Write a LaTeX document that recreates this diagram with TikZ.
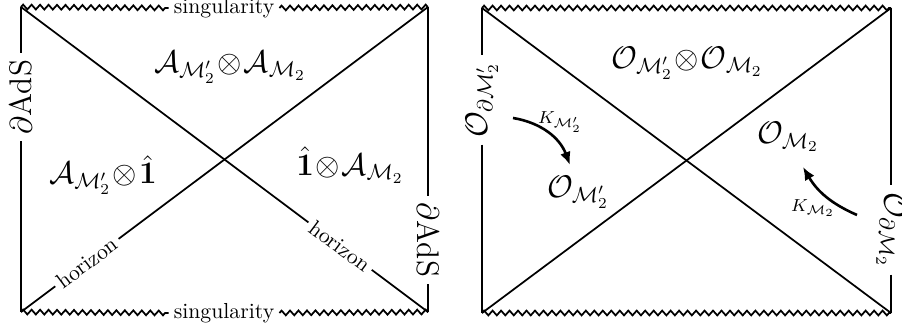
\documentclass[tikz,border=0pt]{standalone}
\usepackage{amsmath,amssymb,amsfonts}
\usepackage{tikz}
\usetikzlibrary{arrows.meta,decorations.pathmorphing}

\tikzset{
  sing/.style={decorate,decoration={zigzag,segment length=3.9pt,amplitude=1.1pt}},
  gap/.style={fill=white,inner sep=2pt},
  flow/.style={-{Latex[length=6pt,width=5pt]},very thick},
}

\begin{document}
\begin{tikzpicture}[x=0.46pt,y=-0.46pt,thick]
\useasboundingbox (0,0) rectangle (902,331);
% left diagram: algebras
\coordinate (ltl) at (21,7);
\coordinate (ltr) at (428,7);
\coordinate (lbl) at (21,312);
\coordinate (lbr) at (428,312);
\node[gap] (lsingt) at (224,8) {singularity};
\node[gap] (lsingb) at (224,313) {singularity};
\draw[sing] (ltl) -- (lsingt.west);
\draw[sing] (lsingt.east) -- (ltr);
\draw[sing] (lbl) -- (lsingb.west);
\draw[sing] (lsingb.east) -- (lbr);
\node[rotate=90,inner sep=3pt] (ladsl) at (21,97) {\Large$\partial$AdS};
\node[rotate=-90,inner sep=3pt] (ladsr) at (428,240) {\Large$\partial$AdS};
\draw (ltl) -- (ladsl.east);
\draw (ladsl.west) -- (lbl);
\draw (ltr) -- (ladsr.west);
\draw (ladsr.east) -- (lbr);
\draw (lbl) -- node[gap,sloped,pos=0.162] (lhorl) {horizon} (ltr);
\draw (ltl) -- node[gap,sloped,pos=0.784] (lhorr) {horizon} (lbr);
\node (latop) at (230,67) {\Large$\mathcal{A}_{\mathcal{M}'_2}\!\otimes\!\mathcal{A}_{\mathcal{M}_2}$};
\node (laleft) at (103,175) {\Large$\mathcal{A}_{\mathcal{M}'_2}\!\otimes\!\hat{\mathbf{1}}$};
\node (laright) at (350,165) {\Large$\hat{\mathbf{1}}\!\otimes\!\mathcal{A}_{\mathcal{M}_2}$};
% right diagram: operators
\coordinate (rtl) at (482,8);
\coordinate (rtr) at (891,8);
\coordinate (rbl) at (482,313);
\coordinate (rbr) at (891,313);
\draw[sing] (rtl) -- (rtr);
\draw[sing] (rbl) -- (rbr);
\node[rotate=90,inner sep=3pt] (rbdl) at (482,100) {\Large$\mathcal{O}_{\partial\mathcal{M}'_2}$};
\node[rotate=-90,inner sep=3pt] (rbdr) at (891,230) {\Large$\mathcal{O}_{\partial\mathcal{M}_2}$};
\draw (rtl) -- (rbdl.east);
\draw (rbdl.west) -- (rbl);
\draw (rtr) -- (rbdr.west);
\draw (rbdr.east) -- (rbr);
\draw (rbl) -- (rtr);
\draw (rtl) -- (rbr);
\node (rotop) at (687,63) {\Large$\mathcal{O}_{\mathcal{M}'_2}\!\otimes\!\mathcal{O}_{\mathcal{M}_2}$};
\node (roleft) at (578,192) {\Large$\mathcal{O}_{\mathcal{M}'_2}$};
\node (roright) at (788,137) {\Large$\mathcal{O}_{\mathcal{M}_2}$};
\coordinate (kls) at (513,118);
\coordinate (kle) at (570,165);
\coordinate (krs) at (857,215);
\coordinate (kre) at (803,167);
\draw[flow] (kls) to[bend left=30] (kle);
\draw[flow] (krs) to[bend left=18] (kre);
\node (kl) at (560,122) {\footnotesize$K_{\mathcal{M}'_2}$};
\node (kr) at (813,208) {\footnotesize$K_{\mathcal{M}_2}$};
\end{tikzpicture}
\end{document}
